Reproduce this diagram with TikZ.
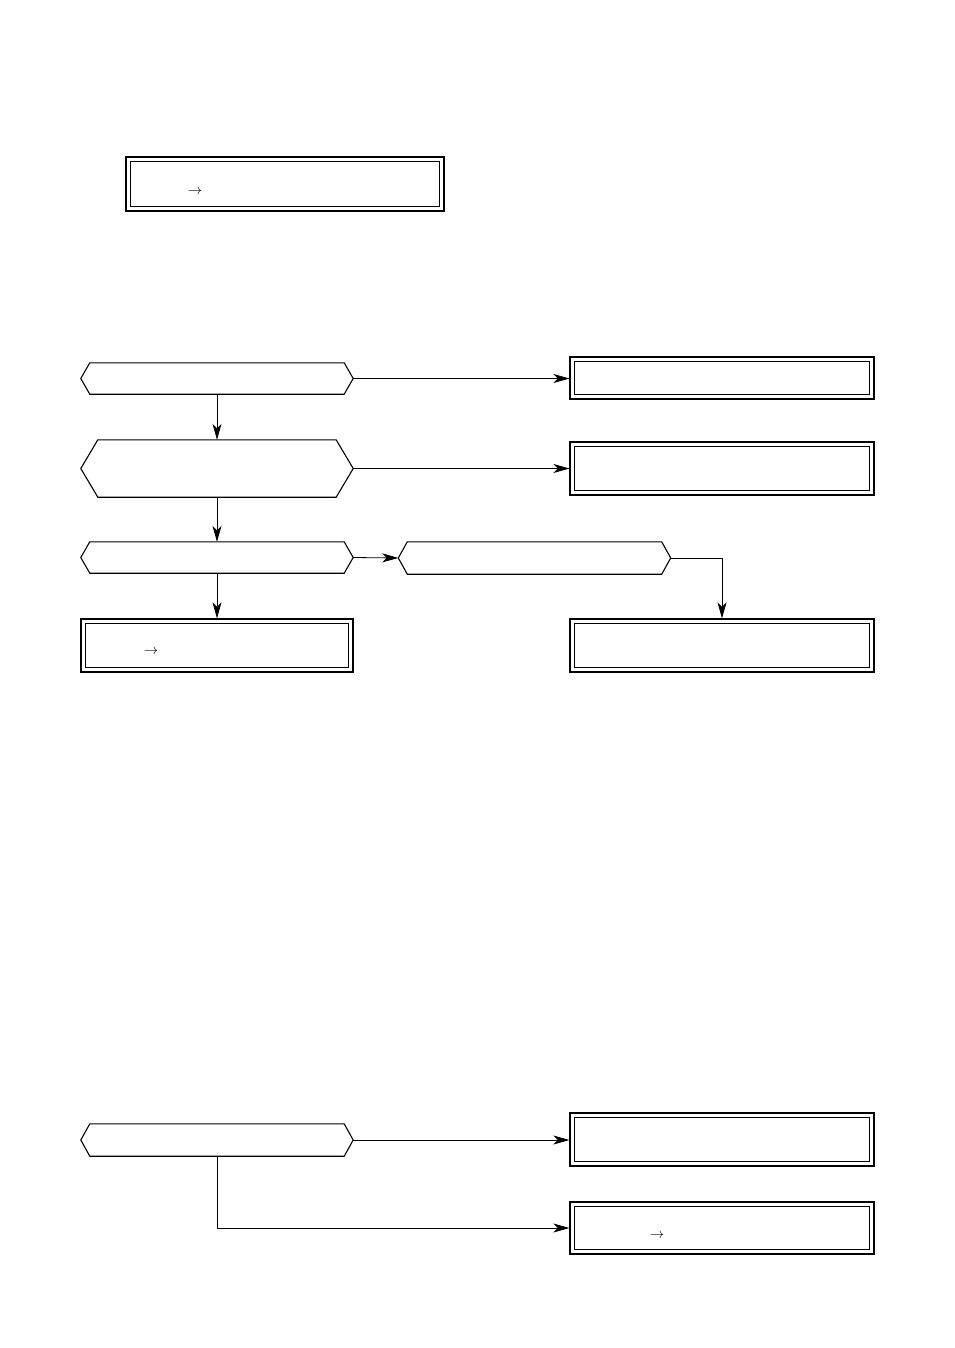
\documentclass[tikz,border=0pt]{standalone}
\usetikzlibrary{arrows.meta}
\newcommand\mkinner[1]{\draw[innerline] ([shift={(5pt,-5pt)}]#1.north west) rectangle ([shift={(-5pt,5pt)}]#1.south east);}
\newcommand\mkhex[2]{\draw[hexline] (#1.west) -- ([xshift=#2]#1.north west) -- ([xshift=-#2]#1.north east) -- (#1.east) -- ([xshift=-#2]#1.south east) -- ([xshift=#2]#1.south west) -- cycle;}
\tikzset{
  dbox/.style={draw, line width=1.2pt, inner sep=0pt, minimum width=304pt, minimum height=53pt},
  innerline/.style={line width=0.8pt},
  hexbase/.style={inner sep=0pt, minimum width=272pt, minimum height=31pt},
  hexline/.style={line width=1.1pt, line join=miter},
  conn/.style={line width=0.8pt, -{Stealth[length=16pt,width=9pt,inset=4.5pt]}},
  arr/.style={inner sep=0pt, font=\fontsize{14}{16}\selectfont}
}
\begin{document}
\begin{tikzpicture}[x=1pt,y=-1pt]
\useasboundingbox (0,0) rectangle (954,1348);
% top box
\node[dbox, minimum width=318pt, minimum height=54pt] (top) at (285,184) {};
\mkinner{top}
\node[arr] (topa) at (195,192) {$\rightarrow$};
% hexagons
\node[hexbase] (h1) at (217,378.5) {};
\mkhex{h1}{9pt}
\node[hexbase, minimum height=57pt] (h2) at (217,468.5) {};
\mkhex{h2}{17pt}
\node[hexbase] (h3) at (217,557.5) {};
\mkhex{h3}{9pt}
\node[hexbase, minimum height=32pt] (h4) at (534.5,558) {};
\mkhex{h4}{9pt}
\node[hexbase, minimum height=32pt] (h5) at (217,1140) {};
\mkhex{h5}{9pt}
% boxes
\node[dbox, minimum height=42pt] (bA) at (722,378) {};
\mkinner{bA}
\node[dbox] (bB) at (722,468.5) {};
\mkinner{bB}
\node[dbox] (bC) at (722,645.5) {};
\mkinner{bC}
\node[dbox, minimum width=272pt] (bD) at (217,645.5) {};
\mkinner{bD}
\node[arr] (bDa) at (151,652) {$\rightarrow$};
\node[dbox] (bE) at (722,1139.5) {};
\mkinner{bE}
\node[dbox, minimum height=52pt] (bF) at (722,1228) {};
\mkinner{bF}
\node[arr] (bFa) at (657,1236) {$\rightarrow$};
% connectors
\draw[conn] (h1.east) -- (bA.west |- h1.east);
\draw[conn] (h1.south) -- (h2.north);
\draw[conn] (h2.east) -- (bB.west |- h2.east);
\draw[conn] (h2.south) -- (h3.north);
\draw[conn] (h3.east) -- (h4.west);
\draw[conn] (h4.east) -| (bC.north);
\draw[conn] (h3.south) -- (bD.north);
\draw[conn] (h5.east) -- (bE.west |- h5.east);
\draw[conn] (h5.south) |- (bF.west);
\end{tikzpicture}
\end{document}
